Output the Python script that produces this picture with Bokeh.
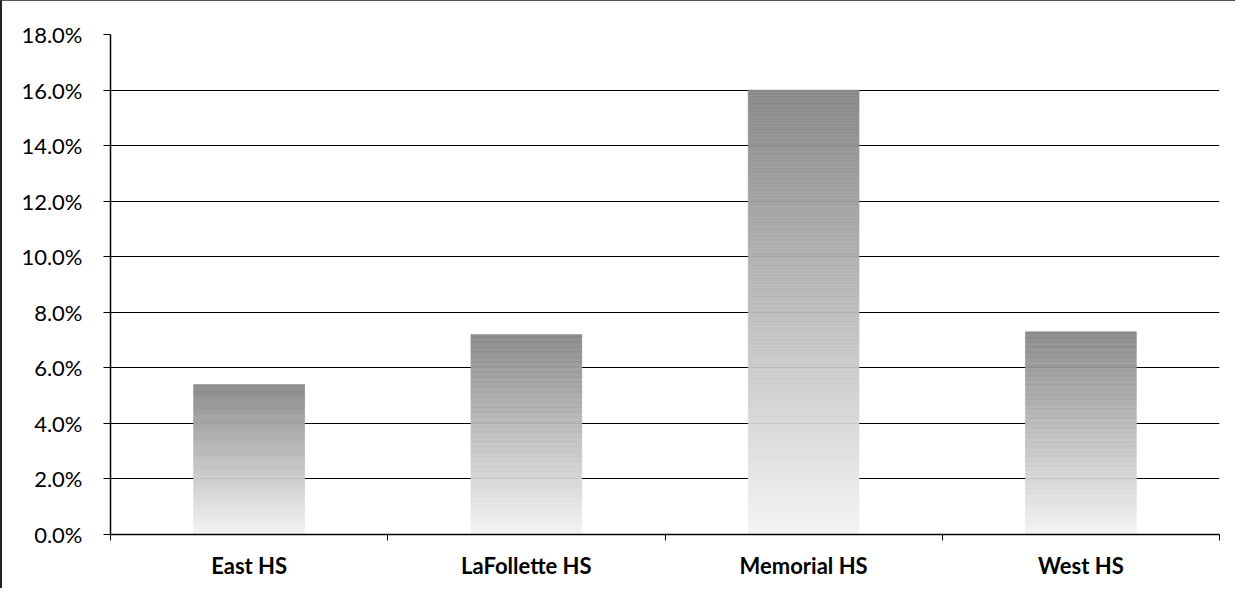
import numpy as np
from bokeh.plotting import figure
from bokeh.models import FixedTicker, NumeralTickFormatter, Range1d
from bokeh.embed import file_html
from bokeh.resources import INLINE

# ---- data ----
schools = ["East HS", "LaFollette HS", "Memorial HS", "West HS"]
rates = [0.054, 0.072, 0.160, 0.073]
y_ticks = [0.0, 0.02, 0.04, 0.06, 0.08, 0.10, 0.12, 0.14, 0.16, 0.18]

p = figure(width=1235, height=588, output_backend="svg", toolbar_location=None,
           x_range=Range1d(0, len(schools)), y_range=Range1d(0, 0.18),
           min_border_left=108, min_border_right=18, min_border_top=33, min_border_bottom=55)
p.styles = {"border-left": "2px solid #222", "border-top": "1px solid #555"}
p.outline_line_color = None
p.background_fill_color = "white"
p.border_fill_color = "white"

# gradient bars built from slices (dark top, light bottom)
N = 160
dark = np.array([136, 136, 136])
light = np.array([244, 244, 244])
lefts, rights, bottoms, tops, colors = [], [], [], [], []
bar_w = 0.4
for i, v in enumerate(rates):
    for k in range(N):
        f = (k + 0.5) / N
        c = light + (dark - light) * f
        lefts.append(i + 0.5 - bar_w / 2)
        rights.append(i + 0.5 + bar_w / 2)
        bottoms.append(v * k / N)
        tops.append(v * (k + 1) / N)
        colors.append("#%02x%02x%02x" % tuple(int(round(x)) for x in c))
p.quad(left=lefts, right=rights, bottom=bottoms, top=tops, fill_color=colors,
       line_color=colors, line_width=0.5)

# y axis
p.yaxis.ticker = FixedTicker(ticks=y_ticks)
p.yaxis.formatter = NumeralTickFormatter(format="0.0%")
p.yaxis.axis_line_color = "black"
p.yaxis.axis_line_width = 1.5
p.yaxis.major_tick_line_color = "black"
p.yaxis.major_tick_out = 7
p.yaxis.major_tick_in = 0
p.yaxis.minor_tick_line_color = None
p.yaxis.major_label_standoff = 21
p.yaxis.major_label_text_font = "Lato"
p.yaxis.major_label_text_font_size = "22px"
p.yaxis.major_label_text_color = "black"

# x axis: labels at centres, ticks at category boundaries
p.xaxis.ticker = FixedTicker(ticks=[i + 0.5 for i in range(len(schools))],
                             minor_ticks=list(range(len(schools) + 1)))
p.xaxis.major_label_overrides = {i + 0.5: s for i, s in enumerate(schools)}
p.xaxis.axis_line_color = "black"
p.xaxis.axis_line_width = 1.5
p.xaxis.major_tick_line_color = None
p.xaxis.minor_tick_line_color = "black"
p.xaxis.minor_tick_out = 6
p.xaxis.minor_tick_in = 0
p.xaxis.major_label_standoff = 11
p.xaxis.major_label_text_font = "Lato"
p.xaxis.major_label_text_font_style = "bold"
p.xaxis.major_label_text_font_size = "22px"
p.xaxis.major_label_text_color = "black"

p.xgrid.grid_line_color = None
p.ygrid.grid_line_color = "black"
p.ygrid.grid_line_width = 1.2

open("out.html", "w").write(file_html(p, INLINE))
